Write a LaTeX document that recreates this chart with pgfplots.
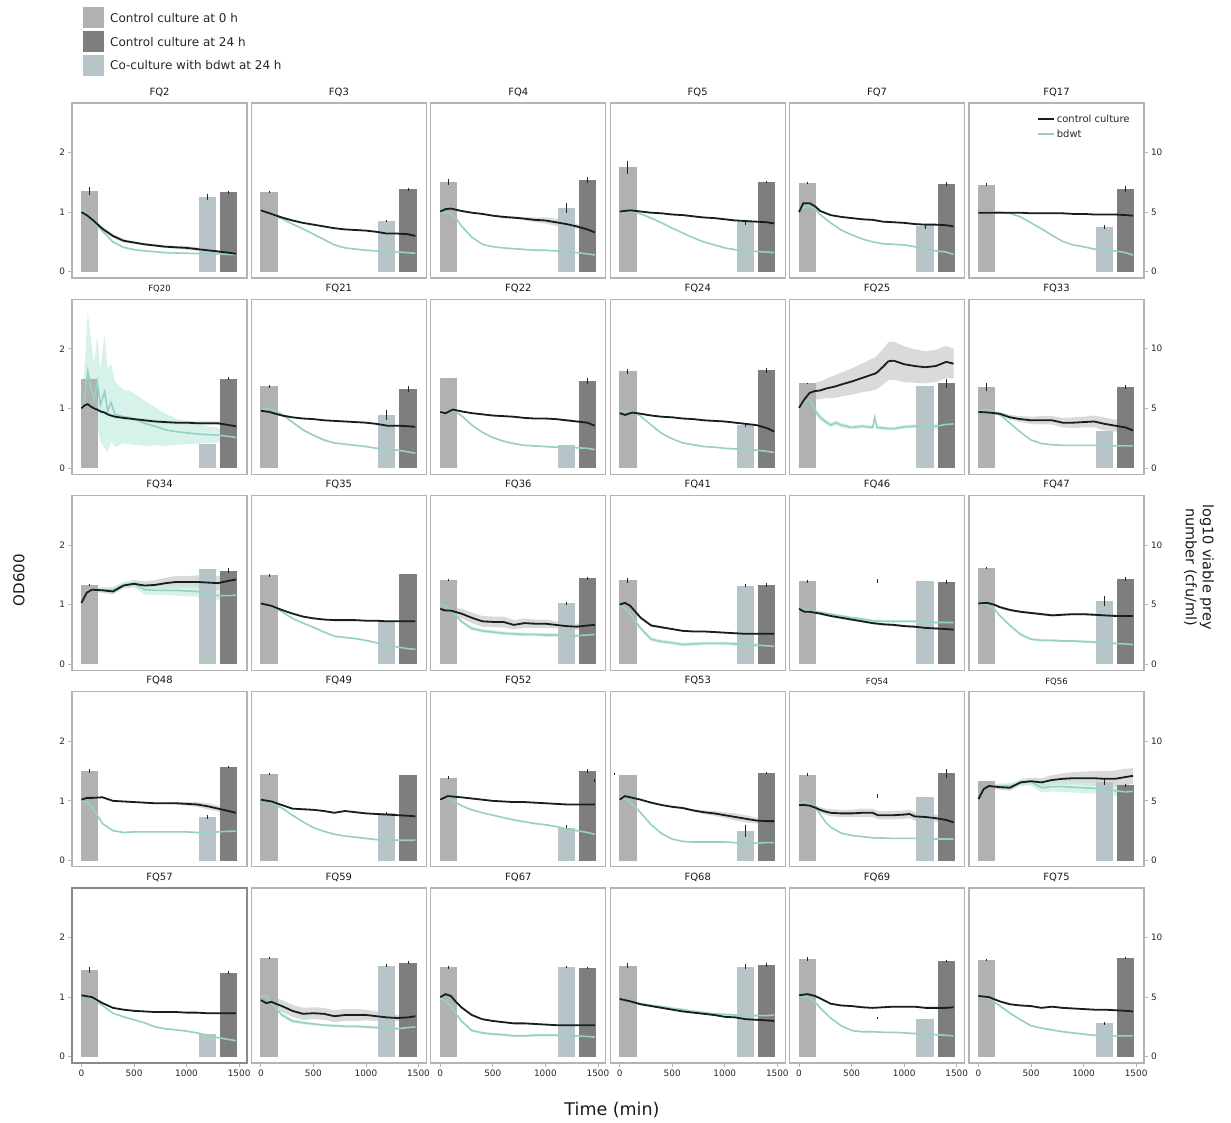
\documentclass[border=0pt]{standalone}
\usepackage{fontspec}
\setmainfont{DejaVu Sans}
\usepackage{pgfplots}
\pgfplotsset{compat=1.18}
\usepackage{pgfplotstable}

\definecolor{barzero}{HTML}{B1B1B1}
\definecolor{bartwfour}{HTML}{7E7E7E}
\definecolor{barco}{HTML}{B7C5C9}
\definecolor{ctrlline}{HTML}{16201A}
\definecolor{bdline}{HTML}{98D0C3}
\definecolor{ctrlrib}{HTML}{DADADA}
\definecolor{bdrib}{HTML}{C9ECE4}
\definecolor{axframe}{HTML}{B4B4B4}
\definecolor{axframedark}{HTML}{8A8A8A}

% OD600 time courses: t (min), control mean / half-width, bdwt mean / half-width
\pgfplotstableread{
t c cs b bs
0 1.00 0.02 1.03 0.02
50 0.95 0.03 0.97 0.02
100 0.88 0.04 0.88 0.02
200 0.72 0.04 0.68 0.02
300 0.60 0.03 0.50 0.02
400 0.52 0.03 0.41 0.01
500 0.49 0.02 0.37 0.01
600 0.46 0.02 0.35 0.01
800 0.42 0.02 0.32 0.01
1000 0.40 0.03 0.31 0.01
1200 0.36 0.03 0.30 0.01
1300 0.34 0.02 0.30 0.01
1400 0.32 0.02 0.29 0.01
1470 0.30 0.01 0.29 0.01
}\fqii
\pgfplotstableread{
t c cs b bs
0 1.03 0.01 1.03 0.01
100 0.97 0.01 0.96 0.01
200 0.91 0.01 0.89 0.01
300 0.86 0.01 0.80 0.01
400 0.82 0.01 0.72 0.01
500 0.79 0.01 0.63 0.01
600 0.76 0.01 0.54 0.01
700 0.73 0.01 0.45 0.01
800 0.71 0.01 0.40 0.01
900 0.70 0.01 0.38 0.01
1000 0.69 0.01 0.36 0.01
1100 0.67 0.01 0.35 0.01
1200 0.64 0.01 0.33 0.01
1300 0.64 0.01 0.33 0.01
1400 0.63 0.01 0.32 0.01
1470 0.60 0.01 0.31 0.01
}\fqiii
\pgfplotstableread{
t c cs b bs
0 1.01 0.01 0.99 0.01
50 1.05 0.01 0.99 0.01
100 1.06 0.01 0.97 0.01
150 1.04 0.01 0.90 0.01
200 1.02 0.01 0.77 0.01
300 0.99 0.01 0.58 0.01
400 0.97 0.01 0.46 0.01
500 0.94 0.01 0.42 0.01
600 0.92 0.02 0.40 0.01
750 0.90 0.02 0.38 0.01
900 0.87 0.04 0.36 0.01
1000 0.86 0.05 0.36 0.01
1100 0.83 0.06 0.35 0.01
1200 0.80 0.06 0.34 0.01
1300 0.76 0.04 0.32 0.01
1400 0.71 0.02 0.30 0.01
1470 0.66 0.01 0.28 0.01
}\fqiv
\pgfplotstableread{
t c cs b bs
0 1.01 0.01 1.00 0.01
100 1.03 0.01 1.02 0.01
200 1.01 0.01 0.97 0.01
300 0.99 0.01 0.90 0.01
400 0.98 0.01 0.82 0.01
500 0.96 0.01 0.73 0.01
600 0.95 0.01 0.65 0.01
700 0.93 0.01 0.57 0.01
800 0.91 0.01 0.50 0.01
900 0.90 0.01 0.45 0.01
1000 0.88 0.01 0.40 0.01
1100 0.86 0.01 0.37 0.01
1200 0.85 0.01 0.35 0.01
1300 0.84 0.01 0.34 0.01
1400 0.83 0.01 0.33 0.01
1470 0.81 0.01 0.32 0.01
}\fqv
\pgfplotstableread{
t c cs b bs
0 1.00 0.02 1.00 0.01
40 1.15 0.03 1.08 0.01
100 1.15 0.02 1.10 0.01
150 1.10 0.02 1.05 0.01
200 1.02 0.01 0.96 0.01
300 0.95 0.01 0.82 0.01
400 0.92 0.01 0.70 0.01
500 0.90 0.01 0.62 0.01
600 0.88 0.01 0.55 0.01
700 0.87 0.01 0.50 0.01
800 0.84 0.01 0.47 0.01
900 0.83 0.01 0.46 0.01
1000 0.82 0.01 0.45 0.01
1100 0.80 0.01 0.42 0.01
1200 0.79 0.01 0.38 0.01
1300 0.79 0.01 0.35 0.01
1400 0.78 0.01 0.33 0.01
1470 0.76 0.01 0.29 0.01
}\fqvii
\pgfplotstableread{
t c cs b bs
0 0.99 0.01 1.00 0.01
200 0.99 0.01 1.00 0.01
300 0.99 0.01 0.98 0.01
400 0.99 0.01 0.92 0.01
500 0.98 0.01 0.82 0.01
600 0.98 0.01 0.72 0.01
700 0.98 0.01 0.61 0.01
800 0.98 0.01 0.51 0.01
900 0.97 0.01 0.45 0.01
1000 0.97 0.01 0.42 0.01
1100 0.96 0.01 0.38 0.01
1200 0.96 0.01 0.36 0.01
1300 0.96 0.01 0.35 0.01
1400 0.95 0.01 0.32 0.01
1470 0.94 0.01 0.28 0.01
}\fqxvii
\pgfplotstableread{
t c cs b bs
0 1.00 0.02 1.00 0.05
30 1.05 0.02 1.20 0.50
60 1.07 0.02 1.62 1.00
90 1.03 0.03 1.35 0.80
120 1.00 0.03 1.15 0.60
150 0.98 0.03 1.45 0.75
180 0.95 0.03 1.05 0.60
220 0.93 0.03 1.28 0.95
250 0.90 0.03 0.95 0.70
280 0.88 0.03 1.10 0.65
320 0.86 0.03 0.90 0.55
360 0.85 0.03 0.88 0.50
400 0.84 0.03 0.86 0.45
450 0.83 0.03 0.85 0.45
500 0.82 0.03 0.82 0.43
600 0.80 0.03 0.75 0.38
700 0.78 0.03 0.70 0.32
800 0.77 0.03 0.64 0.27
900 0.76 0.03 0.61 0.22
1000 0.76 0.03 0.59 0.19
1100 0.75 0.03 0.57 0.17
1200 0.75 0.03 0.56 0.14
1300 0.75 0.03 0.55 0.12
1400 0.72 0.03 0.53 0.10
1470 0.70 0.02 0.51 0.08
}\fqxx
\pgfplotstableread{
t c cs b bs
0 0.96 0.01 0.97 0.02
80 0.94 0.01 1.00 0.02
200 0.88 0.01 0.90 0.02
300 0.85 0.01 0.77 0.02
400 0.83 0.01 0.64 0.02
500 0.82 0.01 0.55 0.02
600 0.80 0.01 0.47 0.02
700 0.79 0.01 0.42 0.01
800 0.78 0.01 0.40 0.01
900 0.77 0.01 0.38 0.01
1000 0.76 0.01 0.36 0.01
1100 0.74 0.01 0.33 0.01
1200 0.71 0.01 0.31 0.01
1300 0.71 0.01 0.30 0.01
1400 0.70 0.01 0.27 0.01
1470 0.69 0.01 0.25 0.01
}\fqxxi
\pgfplotstableread{
t c cs b bs
0 0.94 0.01 0.96 0.01
50 0.92 0.01 0.94 0.01
120 0.98 0.01 0.97 0.01
200 0.95 0.01 0.88 0.01
300 0.92 0.01 0.72 0.01
400 0.90 0.01 0.60 0.01
500 0.88 0.01 0.51 0.01
600 0.87 0.01 0.45 0.01
700 0.86 0.01 0.41 0.01
800 0.84 0.01 0.38 0.01
900 0.83 0.01 0.37 0.01
1000 0.83 0.01 0.36 0.01
1100 0.82 0.01 0.35 0.01
1200 0.80 0.02 0.35 0.01
1300 0.78 0.02 0.34 0.01
1400 0.76 0.01 0.33 0.01
1470 0.71 0.01 0.31 0.01
}\fqxxii
\pgfplotstableread{
t c cs b bs
0 0.92 0.01 0.97 0.01
50 0.89 0.01 0.95 0.01
120 0.93 0.01 0.95 0.01
200 0.91 0.01 0.87 0.01
300 0.88 0.01 0.72 0.01
400 0.86 0.01 0.58 0.01
500 0.85 0.01 0.49 0.01
600 0.83 0.01 0.42 0.01
700 0.82 0.01 0.39 0.01
800 0.80 0.01 0.36 0.01
900 0.79 0.01 0.35 0.01
1000 0.78 0.01 0.33 0.01
1100 0.76 0.01 0.32 0.01
1200 0.74 0.01 0.31 0.01
1300 0.72 0.01 0.30 0.01
1400 0.67 0.01 0.28 0.01
1470 0.61 0.01 0.26 0.01
}\fqxxiv
\pgfplotstableread{
t c cs b bs
0 1.01 0.03 1.00 0.03
50 1.15 0.08 1.10 0.05
100 1.26 0.12 1.15 0.06
150 1.29 0.14 0.97 0.05
200 1.30 0.15 0.85 0.05
250 1.33 0.16 0.78 0.04
300 1.35 0.18 0.72 0.04
350 1.37 0.19 0.76 0.04
400 1.40 0.20 0.72 0.04
500 1.45 0.22 0.68 0.03
600 1.51 0.24 0.70 0.03
700 1.57 0.27 0.68 0.03
720 1.58 0.27 0.85 0.03
740 1.60 0.28 0.68 0.03
800 1.70 0.30 0.67 0.03
850 1.79 0.32 0.66 0.03
900 1.80 0.32 0.66 0.03
1000 1.74 0.30 0.69 0.03
1100 1.71 0.28 0.70 0.03
1200 1.69 0.27 0.68 0.04
1300 1.71 0.27 0.70 0.05
1400 1.78 0.27 0.73 0.05
1470 1.75 0.25 0.74 0.04
}\fqxxv
\pgfplotstableread{
t c cs b bs
0 0.94 0.02 0.97 0.01
100 0.93 0.02 0.98 0.01
200 0.91 0.03 0.90 0.01
300 0.85 0.04 0.75 0.01
400 0.82 0.05 0.60 0.01
500 0.80 0.06 0.47 0.01
600 0.80 0.07 0.41 0.01
700 0.80 0.07 0.39 0.01
800 0.76 0.08 0.38 0.01
900 0.76 0.09 0.38 0.01
1000 0.77 0.09 0.38 0.01
1100 0.78 0.10 0.38 0.01
1200 0.74 0.11 0.37 0.01
1300 0.71 0.10 0.37 0.01
1400 0.68 0.08 0.37 0.01
1470 0.63 0.05 0.37 0.01
}\fqxxxiii
\pgfplotstableread{
t c cs b bs
0 1.03 0.03 1.03 0.03
50 1.20 0.04 1.20 0.04
100 1.25 0.04 1.24 0.04
200 1.24 0.04 1.25 0.04
300 1.22 0.05 1.25 0.05
400 1.32 0.05 1.33 0.05
500 1.35 0.06 1.35 0.06
600 1.32 0.07 1.25 0.08
700 1.33 0.08 1.24 0.08
800 1.36 0.09 1.24 0.08
900 1.38 0.10 1.24 0.09
1000 1.38 0.10 1.23 0.09
1100 1.38 0.11 1.22 0.09
1200 1.37 0.12 1.18 0.09
1300 1.36 0.12 1.15 0.08
1400 1.40 0.12 1.15 0.07
1470 1.42 0.11 1.16 0.06
}\fqxxxiv
\pgfplotstableread{
t c cs b bs
0 1.02 0.01 1.02 0.01
100 0.98 0.01 0.98 0.01
200 0.91 0.01 0.88 0.01
300 0.85 0.01 0.77 0.01
400 0.80 0.01 0.69 0.01
500 0.77 0.01 0.62 0.01
600 0.75 0.01 0.54 0.01
700 0.74 0.01 0.47 0.01
800 0.74 0.01 0.45 0.01
900 0.74 0.01 0.43 0.01
1000 0.73 0.01 0.40 0.01
1100 0.73 0.01 0.36 0.01
1200 0.72 0.01 0.32 0.01
1300 0.72 0.01 0.29 0.01
1400 0.72 0.01 0.26 0.01
1470 0.72 0.01 0.25 0.01
}\fqxxxv
\pgfplotstableread{
t c cs b bs
0 0.93 0.05 1.00 0.03
50 0.90 0.06 0.98 0.03
100 0.90 0.07 0.92 0.03
200 0.85 0.08 0.72 0.03
300 0.78 0.09 0.60 0.03
400 0.72 0.09 0.56 0.03
500 0.71 0.09 0.54 0.03
600 0.71 0.09 0.52 0.03
700 0.66 0.08 0.51 0.03
800 0.69 0.08 0.50 0.03
900 0.68 0.07 0.50 0.03
1000 0.68 0.07 0.49 0.03
1100 0.66 0.06 0.49 0.03
1200 0.64 0.05 0.48 0.03
1300 0.63 0.05 0.48 0.03
1400 0.65 0.05 0.49 0.03
1470 0.66 0.04 0.50 0.03
}\fqxxxvi
\pgfplotstableread{
t c cs b bs
0 1.00 0.02 0.98 0.03
50 1.03 0.02 0.94 0.03
100 0.98 0.02 0.85 0.03
150 0.88 0.02 0.72 0.03
200 0.78 0.02 0.60 0.03
300 0.65 0.02 0.42 0.03
400 0.62 0.02 0.38 0.03
500 0.59 0.01 0.36 0.03
600 0.56 0.01 0.33 0.03
700 0.55 0.01 0.34 0.03
800 0.55 0.01 0.35 0.03
900 0.54 0.01 0.35 0.03
1000 0.53 0.01 0.35 0.03
1100 0.52 0.01 0.34 0.03
1200 0.51 0.01 0.33 0.03
1300 0.51 0.01 0.32 0.03
1400 0.51 0.01 0.31 0.03
1470 0.51 0.01 0.30 0.03
}\fqxli
\pgfplotstableread{
t c cs b bs
0 0.93 0.02 0.95 0.02
50 0.88 0.02 0.91 0.02
100 0.88 0.02 0.90 0.02
200 0.85 0.02 0.87 0.02
300 0.81 0.02 0.84 0.02
400 0.78 0.02 0.81 0.02
500 0.75 0.02 0.78 0.02
600 0.72 0.02 0.76 0.02
700 0.69 0.02 0.73 0.02
800 0.67 0.02 0.72 0.02
900 0.66 0.02 0.72 0.02
1000 0.64 0.02 0.72 0.02
1100 0.63 0.02 0.72 0.02
1200 0.61 0.02 0.71 0.02
1300 0.60 0.02 0.70 0.02
1400 0.59 0.02 0.70 0.02
1470 0.58 0.02 0.70 0.02
}\fqxlvi
\pgfplotstableread{
t c cs b bs
0 1.02 0.02 1.02 0.01
80 1.03 0.02 1.00 0.01
150 1.00 0.02 0.93 0.01
200 0.96 0.02 0.82 0.02
300 0.91 0.02 0.65 0.02
400 0.88 0.02 0.50 0.02
500 0.86 0.02 0.42 0.02
600 0.84 0.02 0.40 0.02
700 0.82 0.02 0.40 0.02
800 0.83 0.02 0.39 0.02
900 0.84 0.02 0.39 0.02
1000 0.84 0.02 0.38 0.02
1100 0.83 0.02 0.37 0.02
1200 0.82 0.02 0.36 0.02
1300 0.81 0.02 0.35 0.02
1400 0.81 0.02 0.34 0.02
1470 0.81 0.02 0.33 0.02
}\fqxlvii
\pgfplotstableread{
t c cs b bs
0 1.02 0.01 1.00 0.01
50 1.05 0.01 0.98 0.01
100 1.05 0.01 0.90 0.01
200 1.06 0.01 0.62 0.01
300 1.00 0.01 0.50 0.01
400 0.99 0.01 0.47 0.01
500 0.98 0.01 0.48 0.01
600 0.97 0.01 0.48 0.01
700 0.96 0.01 0.48 0.01
800 0.96 0.01 0.48 0.01
900 0.96 0.02 0.48 0.01
1000 0.95 0.03 0.48 0.01
1100 0.94 0.04 0.47 0.01
1200 0.91 0.05 0.47 0.01
1300 0.87 0.05 0.48 0.01
1400 0.83 0.04 0.49 0.01
1470 0.80 0.03 0.49 0.01
}\fqxlviii
\pgfplotstableread{
t c cs b bs
0 1.02 0.01 1.02 0.01
100 0.99 0.01 0.97 0.01
200 0.93 0.01 0.88 0.01
300 0.87 0.01 0.76 0.01
400 0.86 0.01 0.65 0.01
500 0.85 0.01 0.55 0.01
600 0.83 0.01 0.49 0.01
700 0.80 0.01 0.44 0.01
800 0.83 0.01 0.41 0.01
900 0.81 0.01 0.39 0.01
1000 0.79 0.01 0.37 0.01
1100 0.78 0.01 0.35 0.01
1200 0.77 0.01 0.34 0.01
1300 0.76 0.01 0.34 0.01
1400 0.75 0.01 0.34 0.01
1470 0.74 0.01 0.34 0.01
}\fqxlix
\pgfplotstableread{
t c cs b bs
0 1.02 0.01 1.00 0.01
70 1.08 0.01 1.06 0.01
200 1.06 0.01 0.92 0.01
300 1.04 0.01 0.85 0.01
400 1.02 0.01 0.80 0.01
500 1.00 0.01 0.76 0.01
600 0.99 0.01 0.72 0.01
700 0.98 0.01 0.68 0.01
800 0.98 0.01 0.65 0.01
900 0.97 0.01 0.62 0.01
1000 0.96 0.01 0.60 0.01
1100 0.95 0.01 0.57 0.01
1200 0.94 0.01 0.53 0.01
1300 0.94 0.01 0.50 0.01
1400 0.94 0.01 0.47 0.01
1470 0.94 0.01 0.44 0.01
}\fqlii
\pgfplotstableread{
t c cs b bs
0 1.02 0.01 1.00 0.01
50 1.08 0.01 1.04 0.01
100 1.06 0.01 0.98 0.01
200 1.02 0.01 0.80 0.01
300 0.97 0.01 0.60 0.01
400 0.93 0.01 0.45 0.01
500 0.90 0.01 0.36 0.01
600 0.88 0.02 0.32 0.01
700 0.84 0.02 0.31 0.01
800 0.81 0.03 0.31 0.01
900 0.79 0.04 0.31 0.01
1000 0.76 0.05 0.31 0.01
1100 0.73 0.06 0.30 0.01
1200 0.70 0.06 0.29 0.01
1300 0.67 0.05 0.29 0.01
1400 0.66 0.04 0.30 0.01
1470 0.66 0.03 0.30 0.01
}\fqliii
\pgfplotstableread{
t c cs b bs
0 0.93 0.02 0.95 0.01
50 0.93 0.02 0.99 0.01
100 0.92 0.03 0.96 0.01
150 0.89 0.04 0.90 0.01
200 0.85 0.05 0.78 0.01
250 0.82 0.05 0.65 0.01
300 0.80 0.06 0.56 0.01
400 0.79 0.06 0.46 0.01
500 0.79 0.06 0.42 0.01
600 0.80 0.07 0.40 0.01
700 0.80 0.07 0.38 0.01
750 0.76 0.07 0.38 0.01
900 0.76 0.07 0.37 0.01
1000 0.77 0.07 0.37 0.01
1050 0.78 0.07 0.37 0.01
1100 0.74 0.07 0.37 0.01
1200 0.73 0.07 0.37 0.01
1300 0.71 0.06 0.36 0.01
1400 0.68 0.05 0.36 0.01
1470 0.64 0.04 0.36 0.01
}\fqliv
\pgfplotstableread{
t c cs b bs
0 1.03 0.03 1.03 0.03
50 1.20 0.04 1.22 0.04
100 1.25 0.04 1.24 0.04
200 1.23 0.04 1.25 0.04
300 1.22 0.05 1.25 0.05
400 1.31 0.05 1.30 0.05
500 1.33 0.06 1.32 0.06
600 1.31 0.07 1.22 0.08
700 1.35 0.08 1.24 0.08
800 1.37 0.09 1.24 0.09
900 1.38 0.10 1.23 0.09
1000 1.38 0.11 1.22 0.09
1100 1.38 0.12 1.21 0.09
1200 1.37 0.13 1.20 0.09
1300 1.37 0.14 1.17 0.08
1400 1.40 0.14 1.15 0.07
1470 1.42 0.13 1.16 0.06
}\fqlvi
\pgfplotstableread{
t c cs b bs
0 1.03 0.01 1.03 0.01
100 1.00 0.01 0.98 0.01
200 0.90 0.01 0.86 0.01
300 0.82 0.01 0.73 0.01
400 0.79 0.01 0.67 0.01
500 0.77 0.01 0.62 0.01
600 0.76 0.01 0.57 0.01
700 0.75 0.01 0.50 0.01
800 0.75 0.01 0.47 0.01
900 0.75 0.01 0.45 0.01
1000 0.74 0.01 0.43 0.01
1100 0.74 0.01 0.40 0.01
1200 0.73 0.01 0.36 0.01
1300 0.73 0.01 0.32 0.01
1400 0.73 0.01 0.29 0.01
1470 0.73 0.01 0.27 0.01
}\fqlvii
\pgfplotstableread{
t c cs b bs
0 0.95 0.06 1.00 0.03
50 0.90 0.08 1.03 0.03
100 0.92 0.09 0.90 0.03
200 0.85 0.10 0.70 0.03
300 0.77 0.10 0.60 0.03
400 0.72 0.10 0.57 0.03
500 0.73 0.10 0.55 0.02
600 0.72 0.10 0.53 0.02
700 0.68 0.10 0.52 0.02
800 0.70 0.10 0.51 0.02
900 0.70 0.10 0.51 0.02
1000 0.70 0.09 0.50 0.02
1100 0.68 0.08 0.49 0.02
1200 0.66 0.07 0.48 0.02
1300 0.65 0.05 0.47 0.02
1400 0.66 0.04 0.49 0.02
1470 0.68 0.03 0.50 0.02
}\fqlix
\pgfplotstableread{
t c cs b bs
0 1.00 0.02 0.98 0.02
50 1.05 0.02 0.93 0.02
100 1.02 0.02 0.85 0.02
150 0.92 0.02 0.72 0.02
200 0.83 0.02 0.60 0.02
300 0.70 0.01 0.44 0.02
400 0.63 0.01 0.40 0.02
500 0.60 0.01 0.38 0.02
600 0.58 0.01 0.37 0.02
700 0.56 0.01 0.35 0.02
800 0.56 0.01 0.35 0.02
900 0.55 0.01 0.36 0.02
1000 0.54 0.01 0.36 0.02
1100 0.53 0.01 0.36 0.02
1200 0.53 0.01 0.35 0.02
1300 0.53 0.01 0.35 0.02
1400 0.53 0.01 0.34 0.02
1470 0.53 0.01 0.33 0.02
}\fqlxvii
\pgfplotstableread{
t c cs b bs
0 0.97 0.01 0.97 0.02
100 0.93 0.01 0.92 0.02
200 0.88 0.01 0.89 0.02
300 0.85 0.01 0.86 0.02
400 0.82 0.01 0.84 0.02
500 0.79 0.01 0.81 0.02
600 0.76 0.01 0.79 0.02
700 0.74 0.01 0.76 0.02
800 0.72 0.01 0.74 0.02
900 0.70 0.01 0.72 0.02
1000 0.67 0.01 0.71 0.02
1100 0.66 0.01 0.70 0.02
1200 0.63 0.01 0.69 0.02
1300 0.62 0.01 0.69 0.02
1400 0.61 0.01 0.69 0.02
1470 0.60 0.01 0.70 0.02
}\fqlxviii
\pgfplotstableread{
t c cs b bs
0 1.03 0.01 1.02 0.01
80 1.05 0.01 1.00 0.01
150 1.02 0.01 0.92 0.01
200 0.98 0.01 0.82 0.01
300 0.89 0.01 0.65 0.01
400 0.86 0.01 0.52 0.01
500 0.85 0.01 0.44 0.01
600 0.83 0.01 0.42 0.01
700 0.82 0.01 0.42 0.01
800 0.83 0.01 0.41 0.01
900 0.84 0.01 0.41 0.01
1000 0.84 0.01 0.40 0.01
1100 0.84 0.01 0.39 0.01
1200 0.82 0.01 0.38 0.01
1300 0.82 0.01 0.37 0.01
1400 0.82 0.01 0.36 0.01
1470 0.83 0.01 0.35 0.01
}\fqlxix
\pgfplotstableread{
t c cs b bs
0 1.02 0.01 1.03 0.01
100 1.00 0.01 0.98 0.01
200 0.93 0.01 0.86 0.01
300 0.88 0.01 0.73 0.01
400 0.86 0.01 0.62 0.01
500 0.85 0.01 0.52 0.01
600 0.82 0.01 0.48 0.01
700 0.84 0.01 0.45 0.01
800 0.82 0.01 0.42 0.01
900 0.81 0.01 0.40 0.01
1000 0.80 0.01 0.38 0.01
1100 0.79 0.01 0.36 0.01
1200 0.79 0.01 0.35 0.01
1300 0.78 0.01 0.35 0.01
1400 0.77 0.01 0.35 0.01
1470 0.76 0.01 0.35 0.01
}\fqlxxv

\pgfplotsset{
  panel/.style={
    width=175pt, height=175pt, scale only axis,
    xmin=-90, xmax=1575, ymin=-0.105, ymax=2.83,
    axis line style={axframe, line width=1.1pt},
    xtick=\empty, ytick=\empty,
    tick align=outside, major tick length=3.5pt,
    tick style={axframe, line width=0.8pt},
    /pgf/number format/assume math mode=true,
    every tick label/.append style={font=\fontsize{8.9}{10}\selectfont, text=black!85},
    title style={font=\fontsize{10}{12}\selectfont, text=black!90, yshift=-3pt},
  },
  leftticks/.style={ytick={0,1,2}, ytick pos=left},
  rightticks/.style={ytick={0,1,2}, yticklabels={0,5,10}, ytick pos=right},
  bottomticks/.style={xtick={0,500,1000,1500}, xticklabels={0,500,1000,1500}, xtick pos=bottom},
  barstyle/.style={ybar, bar width=165, bar shift=0pt, draw=none, forget plot,
    error bars/y dir=both, error bars/y explicit,
    error bars/error bar style={black!85, line width=0.9pt},
    error bars/error mark=none},
}

% bars: log10 viable prey number (mean, error) at 0 h, co-culture at 24 h, control at 24 h
\newcommand\bars[6]{%
  \addplot[barstyle, fill=barzero] table[row sep=\\, x=t, y expr=\thisrow{v}/5, y error expr=\thisrow{e}/5] {t v e\\ 78 #1 #2\\};
  \addplot[barstyle, fill=barco] table[row sep=\\, x=t, y expr=\thisrow{v}/5, y error expr=\thisrow{e}/5] {t v e\\ 1198 #3 #4\\};
  \addplot[barstyle, fill=bartwfour] table[row sep=\\, x=t, y expr=\thisrow{v}/5, y error expr=\thisrow{e}/5] {t v e\\ 1400 #5 #6\\};
}
% a lone error bar with no bar drawn under it: {t}{log10 value}{error}
\newcommand\lone[3]{%
  \addplot[barstyle, fill=none, bar width=1] table[row sep=\\, x=t, y expr=\thisrow{v}/5, y error expr=\thisrow{e}/5] {t v e\\ #1 #2 #3\\};
}

% one facet: [extra options]{column}{row}{title}{table}{bars}
% the spread bands are stacked: lower edge, then band width closed against it
\newcommand\panel[6][]{%
  \pgfmathsetmacro\px{72+179.4*#2}%
  \pgfmathsetmacro\py{-103-196.25*#3}%
  \begin{axis}[panel, at={(\px pt,\py pt)}, anchor=north west, title={#4}, #1]
    \addplot[draw=none, stack plots=y, forget plot] table[x=t, y expr=\thisrow{c}-\thisrow{cs}] {#5};
    \addplot[fill=ctrlrib, draw=none, stack plots=y, forget plot] table[x=t, y expr=2*\thisrow{cs}] {#5} \closedcycle;
    \addplot[draw=none, stack plots=y, forget plot] table[x=t, y expr=\thisrow{b}-\thisrow{bs}-\thisrow{c}-\thisrow{cs}] {#5};
    \addplot[fill=bdrib, fill opacity=0.75, draw=none, stack plots=y, forget plot] table[x=t, y expr=2*\thisrow{bs}] {#5} \closedcycle;
    #6
    \addplot[bdline, line width=1.6pt, mark=none] table[x=t, y=b] {#5};
    \addplot[ctrlline, line width=1.8pt, mark=none] table[x=t, y=c] {#5};
  \end{axis}%
}

\begin{document}
\begin{tikzpicture}
\path[use as bounding box] (0pt,0pt) rectangle (1231pt,-1122pt);

% legend of the bars
\begin{scope}[font=\fontsize{12}{14}\selectfont]
  \fill[barzero] (83pt,-7pt) rectangle (104pt,-28pt);
  \fill[bartwfour] (83pt,-31pt) rectangle (104pt,-52pt);
  \fill[barco] (83pt,-55pt) rectangle (104pt,-76pt);
  \node[anchor=west, inner sep=0pt, text=black!85] at (110pt,-18pt) {Control culture at 0 h};
  \node[anchor=west, inner sep=0pt, text=black!85] at (110pt,-42pt) {Control culture at 24 h};
  \node[anchor=west, inner sep=0pt, text=black!85] at (110pt,-65pt) {Co-culture with bdwt at 24 h};
\end{scope}

% row 1
\panel[leftticks]{0}{0}{FQ2}{\fqii}{\bars{6.75}{0.35}{6.30}{0.25}{6.65}{0.10}}
\panel{1}{0}{FQ3}{\fqiii}{\bars{6.70}{0.10}{4.25}{0.05}{6.90}{0.15}}
\panel{2}{0}{FQ4}{\fqiv}{\bars{7.55}{0.25}{5.35}{0.40}{7.70}{0.25}}
\panel{3}{0}{FQ5}{\fqv}{\bars{8.75}{0.55}{4.15}{0.20}{7.50}{0.10}}
\panel{4}{0}{FQ7}{\fqvii}{\bars{7.45}{0.10}{3.80}{0.20}{7.35}{0.15}}
\panel[rightticks, legend entries={bdwt, control culture}, reverse legend,
  legend style={at={(0.93,0.945)}, anchor=north east, draw=none, fill=none,
    font=\fontsize{10}{12}\selectfont, row sep=1.5pt, inner sep=0pt, text=black!85},
  legend cell align=left,
  legend image code/.code={\draw[#1] (0pt,0pt) -- (16pt,0pt);}]
  {5}{0}{FQ17}{\fqxvii}{\bars{7.30}{0.15}{3.75}{0.15}{6.95}{0.25}}

% row 2
\panel[leftticks]{0}{1}{{\fontsize{8.5}{10}\selectfont FQ20}}{\fqxx}{\bars{7.45}{0}{2.00}{0}{7.50}{0.15}}
\panel{1}{1}{FQ21}{\fqxxi}{\bars{6.85}{0.10}{4.45}{0.40}{6.60}{0.25}}
\panel{2}{1}{FQ22}{\fqxxii}{\bars{7.55}{0}{1.95}{0}{7.30}{0.25}}
\panel{3}{1}{FQ24}{\fqxxiv}{\bars{8.10}{0.20}{3.60}{0.15}{8.20}{0.20}}
\panel{4}{1}{FQ25}{\fqxxv}{\bars{7.10}{0.05}{6.85}{0}{7.10}{0.35}}
\panel[rightticks]{5}{1}{FQ33}{\fqxxxiii}{\bars{6.80}{0.35}{3.10}{0}{6.80}{0.15}}

% row 3
\panel[leftticks]{0}{2}{FQ34}{\fqxxxiv}{\bars{6.65}{0.10}{7.95}{0}{7.85}{0.20}}
\panel{1}{2}{FQ35}{\fqxxxv}{\bars{7.45}{0.10}{3.60}{0}{7.60}{0}}
\panel{2}{2}{FQ36}{\fqxxxvi}{\bars{7.05}{0.10}{5.10}{0.15}{7.20}{0.10}}
\panel{3}{2}{FQ41}{\fqxli}{\bars{7.05}{0.20}{6.60}{0.15}{6.65}{0.20}}
\panel{4}{2}{FQ46}{\fqxlvi}{\bars{6.95}{0.10}{6.95}{0}{6.90}{0.15}\lone{750}{7.00}{0.15}}
\panel[rightticks]{5}{2}{FQ47}{\fqxlvii}{\bars{8.05}{0.10}{5.30}{0.40}{7.15}{0.20}}

% row 4
\panel[leftticks]{0}{3}{FQ48}{\fqxlviii}{\bars{7.50}{0.20}{3.65}{0.15}{7.85}{0.05}}
\panel{1}{3}{FQ49}{\fqxlix}{\bars{7.25}{0.10}{4.00}{0.10}{7.20}{0}}
\panel{2}{3}{FQ52}{\fqlii}{\bars{6.95}{0.15}{2.75}{0.20}{7.50}{0.20}\lone{1465}{6.70}{0.15}}
\panel{3}{3}{FQ53}{\fqliii}{\bars{7.20}{0}{2.50}{0.50}{7.35}{0.10}\lone{-45}{7.25}{0.10}}
\panel{4}{3}{{\fontsize{8.5}{10}\selectfont FQ54}}{\fqliv}{\bars{7.20}{0.15}{5.30}{0}{7.30}{0.35}\lone{750}{5.40}{0.15}}
\panel[rightticks]{5}{3}{{\fontsize{8.5}{10}\selectfont FQ56}}{\fqlvi}{\bars{6.65}{0}{6.55}{0.25}{6.30}{0.15}}

% row 5
\panel[leftticks, bottomticks, axis line style={axframedark, line width=1.3pt}]{0}{4}{FQ57}{\fqlvii}{\bars{7.25}{0.25}{1.95}{0}{7.05}{0.10}}
\panel[bottomticks]{1}{4}{FQ59}{\fqlix}{\bars{8.30}{0.10}{7.65}{0.10}{7.90}{0.10}}
\panel[bottomticks]{2}{4}{FQ67}{\fqlxvii}{\bars{7.50}{0.15}{7.55}{0.10}{7.45}{0.10}}
\panel[bottomticks]{3}{4}{FQ68}{\fqlxviii}{\bars{7.65}{0.20}{7.55}{0.20}{7.70}{0.20}}
\panel[bottomticks]{4}{4}{FQ69}{\fqlxix}{\bars{8.20}{0.15}{3.15}{0}{8.05}{0.10}\lone{750}{3.25}{0.08}}
\panel[rightticks, bottomticks]{5}{4}{FQ75}{\fqlxxv}{\bars{8.10}{0.10}{2.80}{0.10}{8.30}{0.10}}

% axis titles
\node[rotate=90, font=\fontsize{15}{17}\selectfont, text=black!90] at (19pt,-580pt) {OD600};
\node[rotate=-90, align=center, font=\fontsize{14.5}{17}\selectfont, text=black!90] at (1199pt,-567pt) {log10 viable prey\\number (cfu/ml)};
\node[font=\fontsize{17.5}{20}\selectfont, text=black!90] at (612pt,-1110pt) {Time (min)};
\end{tikzpicture}
\end{document}
